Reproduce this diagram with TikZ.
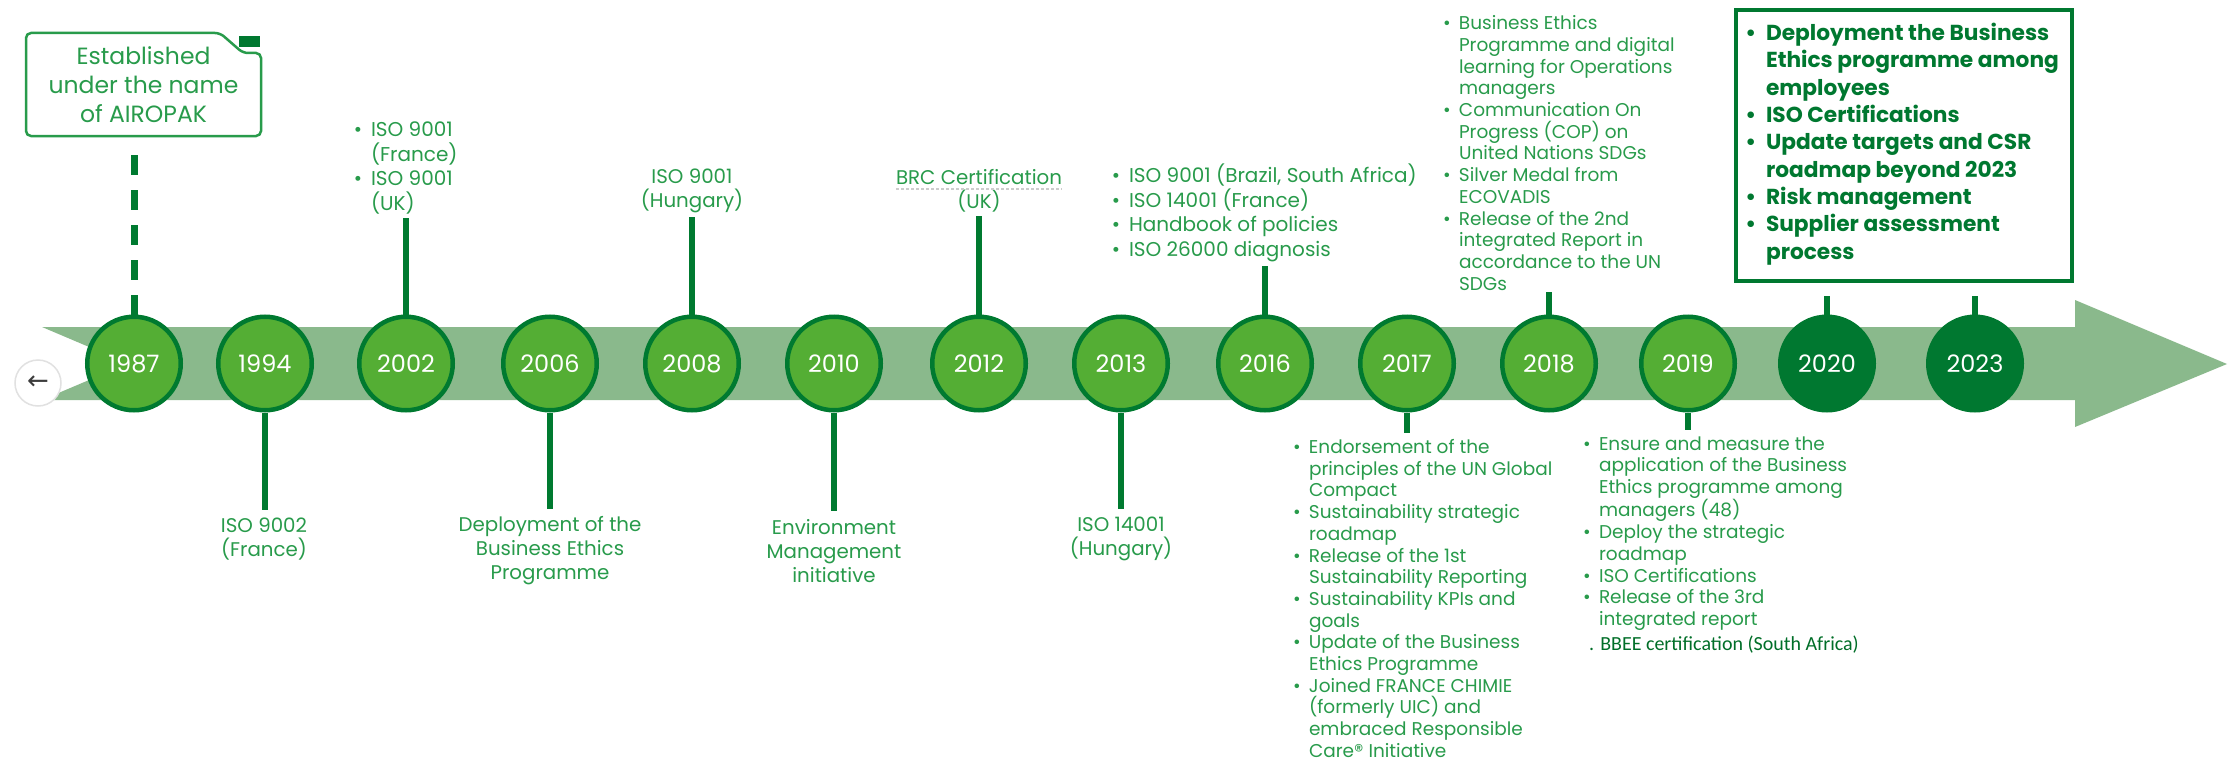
\documentclass[tikz,border=0pt]{standalone}
\usepackage{fontspec}
\setmainfont{Poppins}
\newfontfamily\calibfont{Carlito}
\newfontfamily\dejavu{DejaVu Sans}
\definecolor{band}{RGB}{138,185,140}
\definecolor{cfill}{RGB}{84,174,52}
\definecolor{cline}{RGB}{0,122,48}
\definecolor{dkgreen}{RGB}{0,120,48}
\definecolor{txtgreen}{RGB}{40,155,75}
\definecolor{bbeegreen}{RGB}{0,110,40}
\definecolor{btnline}{RGB}{225,225,225}
\definecolor{btnarrow}{RGB}{60,60,60}
\newcommand\itm{\llap{\textbullet\hspace{0.45em}}}
\begin{document}
\begin{tikzpicture}[x=1pt,y=-1pt,
  year/.style={circle,draw=cline,fill=cfill,line width=4.5pt,minimum size=93.5pt,inner sep=0pt,text=white,font=\fontsize{24}{30}\selectfont},
  yeardk/.style={year,fill=dkgreen,draw=dkgreen},
  lbl/.style={text=txtgreen,font=\fontsize{19.8}{24}\selectfont,align=center,inner sep=0pt,outer sep=0pt},
  lst/.style={text=txtgreen,font=\fontsize{20}{24.5}\selectfont,align=left,inner sep=0pt,outer sep=0pt,anchor=west},
  lstsm/.style={lst,font=\fontsize{18.5}{21.7}\selectfont},
  stem/.style={draw=cline,line width=6.5pt},
]
\useasboundingbox (0,0) rectangle (2228,760);
\fill[white] (0,0) rectangle (2228,760);
% band arrow
\fill[band] (42,327) -- (2075,327) -- (2075,300) -- (2227,364) -- (2075,427) -- (2075,400) -- (42,400) -- (128,363.5) -- cycle;
% back button
\node[circle,draw=btnline,fill=white,line width=1.5pt,minimum size=46pt,inner sep=0pt,text=btnarrow,font=\dejavu\fontsize{26}{30}\selectfont] (back) at (38,383) {←};

% year circles
\node[year] (c1987) at (134,363.5) {1987};
\node[year] (c1994) at (265,363.5) {1994};
\node[year] (c2002) at (406,363.5) {2002};
\node[year] (c2006) at (550,363.5) {2006};
\node[year] (c2008) at (692,363.5) {2008};
\node[year] (c2010) at (834,363.5) {2010};
\node[year] (c2012) at (979,363.5) {2012};
\node[year] (c2013) at (1121,363.5) {2013};
\node[year] (c2016) at (1265,363.5) {2016};
\node[year] (c2017) at (1407,363.5) {2017};
\node[year] (c2018) at (1549,363.5) {2018};
\node[year] (c2019) at (1688,363.5) {2019};
\node[yeardk] (c2020) at (1827,363.5) {2020};
\node[yeardk] (c2023) at (1975,363.5) {2023};

% Established box
\node[minimum width=235pt,minimum height=103pt,inner sep=0pt,outer sep=0pt,align=center,text=txtgreen,font=\fontsize{23.5}{29}\selectfont] (est) at (143.5,84.5) {Established\\under the name\\of AIROPAK};
\draw[draw=txtgreen,line width=2.5pt,rounded corners=5pt] (est.south west) -- (est.north west) -- ([xshift=-41pt]est.north east) -- ([xshift=-18pt,yshift=-20pt]est.north east) -- ([yshift=-20pt]est.north east) -- (est.south east) -- cycle;
\fill[dkgreen] ([xshift=-22pt,yshift=-3pt]est.north east) rectangle ([xshift=-1pt,yshift=-14pt]est.north east);

% top labels
\node[lst] (t2002) at (371,168) {\itm ISO 9001\\(France)\\\itm ISO 9001\\(UK)};
\node[lbl] (t2008) at (692,191) {ISO 9001\\(Hungary)};
\node[lbl] (t2012) at (979,191) {BRC Certification\\(UK)};
\draw[gray!40,line width=1.2pt,dash pattern=on 3pt off 2pt] (896,189) -- (1062,189);
\node[lst] (t2016) at (1129,213) {\itm ISO 9001 (Brazil, South Africa)\\\itm ISO 14001 (France)\\\itm Handbook of policies\\\itm ISO 26000 diagnosis};
\node[lstsm] (t2018) at (1459,153) {\itm Business Ethics\\Programme and digital\\learning for Operations\\managers\\\itm Communication On\\Progress (COP) on\\United Nations SDGs\\\itm Silver Medal from\\ECOVADIS\\\itm Release of the 2nd\\integrated Report in\\accordance to the UN\\SDGs};
\node[draw=dkgreen,line width=4pt,minimum width=336pt,minimum height=271pt,inner sep=0pt] (b2020) at (1904,145.5) {};
\node[lst,text=dkgreen,font=\bfseries\fontsize{21.7}{27.3}\selectfont] (t2020) at (1766,144) {\itm Deployment the Business\\Ethics programme among\\employees\\\itm ISO Certifications\\\itm Update targets and CSR\\roadmap beyond 2023\\\itm Risk management\\\itm Supplier assessment\\process};

% bottom labels
\node[lbl] (t1994) at (264,539) {ISO 9002\\(France)};
\node[lbl] (t2006) at (550,551) {Deployment of the\\Business Ethics\\Programme};
\node[lbl] (t2010) at (834,551) {Environment\\Management\\initiative};
\node[lbl] (t2013) at (1121,539) {ISO 14001\\(Hungary)};
\node[lstsm] (t2017) at (1309,598.5) {\itm Endorsement of the\\principles of the UN Global\\Compact\\\itm Sustainability strategic\\roadmap\\\itm Release of the 1st\\Sustainability Reporting\\\itm Sustainability KPIs and\\goals\\\itm Update of the Business\\Ethics Programme\\\itm Joined FRANCE CHIMIE\\(formerly UIC) and\\embraced Responsible\\Care® Initiative};
\node[lstsm] (t2019) at (1599,533.5) {\itm Ensure and measure the\\application of the Business\\Ethics programme among\\managers (48)\\\itm Deploy the strategic\\roadmap\\\itm ISO Certifications\\\itm Release of the 3rd\\integrated report};
\node[anchor=west,inner sep=0pt,text=bbeegreen,font=\calibfont\fontsize{20}{24}\selectfont] (tbbee) at (1589,645) {. BBEE certification (South Africa)};

% connectors
\draw[stem,line width=7pt,dash pattern=on 20pt off 15pt,shorten >=16pt] (c1987.north) -- (c1987.north |- est.south);
\draw[stem,shorten >=4pt] (c2002.north) -- (c2002.north |- t2002.south);
\draw[stem,shorten >=4pt] (c2008.north) -- (c2008.north |- t2008.south);
\draw[stem,shorten >=4pt] (c2012.north) -- (c2012.north |- t2012.south);
\draw[stem,shorten >=4pt] (c2016.north) -- (c2016.north |- t2016.south);
\draw[stem,shorten >=2pt] (c2018.north) -- (c2018.north |- t2018.south);
\draw[stem,shorten >=13pt] (c2020.north) -- (c2020.north |- b2020.south);
\draw[stem,shorten >=13pt] (c2023.north) -- (c2023.north |- b2020.south);
\draw[stem,shorten >=8pt] (c1994.south) -- (c1994.south |- t1994.north);
\draw[stem,shorten >=8pt] (c2006.south) -- (c2006.south |- t2006.north);
\draw[stem,shorten >=8pt] (c2010.south) -- (c2010.south |- t2010.north);
\draw[stem,shorten >=8pt] (c2013.south) -- (c2013.south |- t2013.north);
\draw[stem,shorten >=6.5pt] (c2017.south) -- (c2017.south |- t2017.north);
\draw[stem,shorten >=6.5pt] (c2019.south) -- (c2019.south |- t2019.north);
\end{tikzpicture}
\end{document}
